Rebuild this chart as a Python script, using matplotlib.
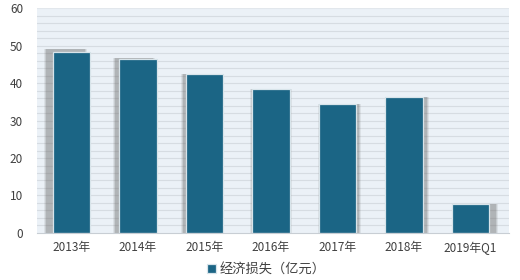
import numpy as np
import matplotlib.pyplot as plt

plt.rcParams['font.family'] = ['Noto Sans CJK SC', 'DejaVu Sans']

years = ['2013年', '2014年', '2015年', '2016年', '2017年', '2018年', '2019年Q1']
loss = [48.3, 46.3, 42.3, 38.4, 34.3, 36.4, 7.6]
series_name = '经济损失（亿元）'

bar_color = '#1b6585'
x = np.arange(len(years))

fig = plt.figure(figsize=(5.2, 2.8), dpi=100)
ax = fig.add_axes([0.071, 0.168, 0.908, 0.803])
ax.set_facecolor('#ebf1f7')

# light grid every 2 units
for v in np.arange(2, 60, 2):
    ax.axhline(v, color='#d6dce2', lw=0.8, zorder=0)
ax.axhline(60, color='#e2e7ec', lw=0.8, zorder=0)

# soft perspective shadow behind the bars
off = (x - 3) * 0.03
lift = np.clip(3 - x, 0, None) * 0.25
for k, a in [(0.08, 0.12), (0.05, 0.18), (0.025, 0.25)]:
    ax.bar(x + off, np.array(loss) + lift, width=0.56 + k, color='#6e6e6e',
           alpha=a, zorder=1, linewidth=0)

ax.bar(x, loss, width=0.56, color=bar_color, edgecolor='#d8e4ea',
       linewidth=0.9, zorder=2, label=series_name)

ax.set_xlim(-0.52, 6.58)
ax.set_ylim(0, 60)
ax.set_yticks(range(0, 61, 10))
ax.set_xticks(x)
ax.set_xticklabels(years)
ax.tick_params(length=0, labelsize=8.5, colors='#404040', pad=6)
ax.tick_params(axis='y', pad=10)
for s in ['top', 'right', 'left']:
    ax.spines[s].set_visible(False)
ax.spines['bottom'].set_color('#c8ced4')

fig.legend(loc='upper left', bbox_to_anchor=(0.385, 0.085), frameon=False,
           fontsize=9.5, handlelength=0.7, handleheight=0.7, handletextpad=0.3,
           labelcolor='#404040', borderaxespad=0.1)

fig.savefig('out.png', dpi=100)
